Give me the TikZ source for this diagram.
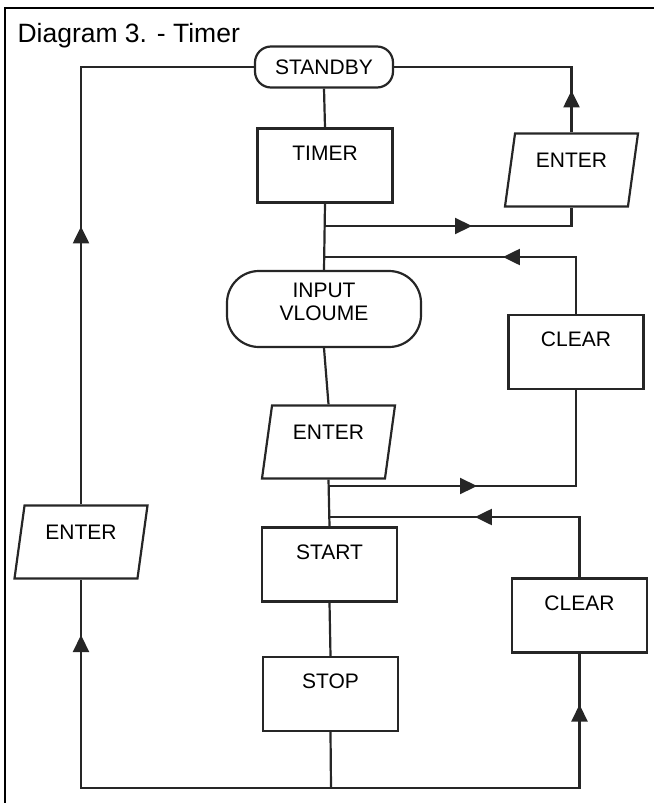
\documentclass[tikz,border=0pt]{standalone}
\usepackage{fontspec}
\setmainfont{Liberation Sans}
\usetikzlibrary{shapes.geometric}
\usetikzlibrary{arrows.meta}
\usetikzlibrary{decorations.markings}

\tikzset{
  flow/.style={draw=black!85, line width=2.2pt},
  lbl/.style={font=\fontsize{21}{23}\selectfont},
  box/.style={flow, lbl, rectangle, minimum width=135pt, minimum height=74pt,
    text height=15pt, text depth=26pt, inner sep=0pt},
  term/.style={flow, lbl, rectangle, rounded corners=#1, inner sep=0pt, align=center},
  io/.style={flow, lbl, trapezium, trapezium left angle=74, trapezium right angle=106,
    trapezium stretches body, minimum width=133pt, minimum height=73pt,
    text height=15pt, text depth=20pt, inner sep=0pt},
  midarrow/.style={postaction={decorate}, decoration={markings,
    mark=at position #1 with {\arrow{Triangle[length=17pt,width=16pt]}}}},
}

\begin{document}
\begin{tikzpicture}[x=1pt, y=-1pt]
\useasboundingbox (0,0) rectangle (654,803);
\draw[black, line width=1.4pt] (5,803) -- (5,8) -- (654,8);
\node[anchor=base west, font=\fontsize{26.5}{30}\selectfont] (title) at (14,42) {Diagram 3. - Timer};

% flow chart blocks
\node[term=16pt, minimum width=138pt, minimum height=41pt] (standby) at (324,67) {STANDBY};
\node[box] (timer) at (325,165.5) {TIMER};
\node[io] (enter1) at (571.5,170) {ENTER};
\node[term=32pt, minimum width=194pt, minimum height=76pt] (input) at (324,309) {INPUT\\VLOUME\\[-9pt]};
\node[io] (enter2) at (328.5,442) {ENTER};
\node[box] (clear1) at (576,352) {CLEAR};
\node[io] (enter3) at (81,542) {ENTER};
\node[box] (start) at (329.5,564.5) {START};
\node[box] (clear2) at (579.5,615.5) {CLEAR};
\node[box] (stop) at (330.5,694) {STOP};

\coordinate (b1) at (325,226);
\coordinate (b2) at (325,257);
\coordinate (b3) at (329,486);
\coordinate (b4) at (330,517);
\coordinate (b5) at (331,788);

% main column
\foreach \a/\b in {standby/timer, timer/input, input/enter2, enter2/start, start/stop} {
 \draw[flow] (\a.south) -- (\b.north);
}
\draw[flow] (stop.south) -- (b5);

% loops
\draw[flow, midarrow=147pt] (b1) -| (enter1.south);
\draw[flow, midarrow=42pt] (enter1.north) |- (standby.east);
\draw[flow, midarrow=130pt] (clear1.north) |- (b2);
\draw[flow, midarrow=148pt] (b3) -| (clear1.south);
\draw[flow, midarrow=165pt] (clear2.north) |- (b4);
\draw[flow, midarrow=403pt] (b5) -| (enter3.south);
\draw[flow, midarrow=332pt] (b5) -| (clear2.south);
\draw[flow, midarrow=278pt] (enter3.north) |- (standby.west);
\end{tikzpicture}
\end{document}
